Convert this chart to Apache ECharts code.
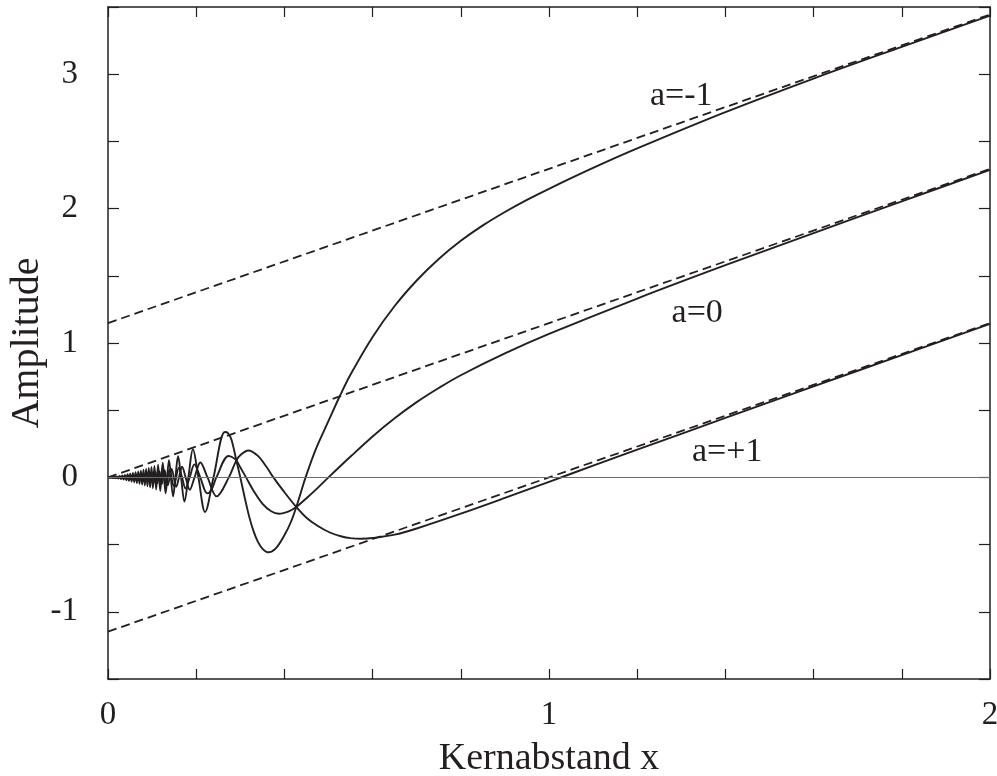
<!DOCTYPE html>
<html>
<head>
<meta charset="utf-8">
<script src="https://cdn.jsdelivr.net/npm/echarts@6/dist/echarts.min.js"></script>
<style>
html,body{margin:0;padding:0;background:#ffffff;}
#chart{width:997px;height:776px;}
</style>
</head>
<body>
<div id="chart"></div>
<script>
// ---- tick labels ----
const xLabelValues = [0, 1, 2];
const yLabelValues = [-1, 0, 1, 2, 3];
const curveNames = ['a=-1', 'a=0', 'a=+1'];

// ---- asymptotes (dashed) ----
const asymAm1 = [[0, 1.148], [2, 3.444]];
const asymA0  = [[0, 0], [2, 2.296]];
const asymAp1 = [[0, -1.148], [2, 1.148]];

// ---- solid curves, values ----
const curveAm1 = [
[0,0],[0.0025,0.0003],[0.0055,-0.0010],[0.0085,0.0020],[0.0115,-0.0031],[0.0145,0.0043],[0.0175,-0.0058],[0.0205,0.0073],[0.0235,-0.0090],[0.0265,0.0107],[0.0295,-0.0126],[0.0325,0.0146],[0.0355,-0.0167],[0.0385,0.0188],[0.0415,-0.0211],[0.0445,0.0234],[0.0475,-0.0258],[0.0505,0.0283],[0.0535,-0.0308],[0.0565,0.0334],[0.0595,-0.0361],[0.0625,0.0389],[0.0655,-0.0417],[0.0685,0.0446],[0.0715,-0.0476],[0.0745,0.0506],[0.0775,-0.0537],[0.0805,0.0569],[0.0835,-0.0601],[0.0865,0.0633],[0.0895,-0.0667],[0.0925,0.0700],[0.0955,-0.0735],
[0.0986,0.0771],[0.1018,-0.0809],[0.1053,0.0851],[0.1092,-0.0899],[0.1136,0.0953],[0.1185,-0.1016],[0.1241,0.109],[0.1307,-0.118],[0.1383,0.128],[0.1476,-0.141],[0.1529,0],[0.1589,0.158],[0.1657,0],[0.1733,-0.180],[0.1822,0],[0.1926,0.210],[0.2050,0],[0.2201,-0.257],[0.2392,0],
[0.265,0.338],[0.272,0.33],[0.28,0.28],[0.291,0.127],[0.300,0],[0.31,-0.15],[0.32,-0.29],[0.33,-0.40],[0.34,-0.48],[0.35,-0.53],[0.363,-0.557],[0.38,-0.53],[0.40,-0.43],[0.415,-0.33],[0.427,-0.22],[0.438,-0.105],[0.448,0],[0.47,0.20],[0.5,0.42],[0.525,0.60],[0.55,0.765],[0.6,1.045],[0.65,1.275],[0.7,1.465],[0.75,1.625],[0.8,1.76],[0.85,1.875],[0.9,1.975],[0.95,2.065],[1.0,2.1475],[1.1,2.3025],[1.2,2.4475],[1.4,2.7175],[1.6,2.9675],[1.8,3.2035],[2.0,3.4355]
];

const curveA0 = [
[0,0],[0.004,-0.0003],[0.007,0.0007],[0.010,-0.0011],[0.013,0.0017],[0.016,-0.0023],[0.019,0.0029],[0.022,-0.0037],[0.025,0.0044],[0.028,-0.0052],[0.031,0.0061],[0.034,-0.0070],[0.037,0.0080],[0.040,-0.0090],[0.043,0.0100],[0.046,-0.0110],[0.049,0.0121],[0.052,-0.0133],[0.055,0.0144],[0.058,-0.0156],[0.061,0.0169],[0.064,-0.0181],[0.067,0.0194],[0.070,-0.0207],[0.073,0.0221],[0.076,-0.0235],[0.079,0.0249],[0.082,-0.0263],[0.085,0.0278],[0.088,-0.0292],[0.091,0.0307],[0.094,-0.0323],[0.097,0.0338],
[0.1023,-0.0364],[0.1059,0.0384],[0.1098,-0.0405],[0.1143,0.0430],[0.1193,-0.0459],[0.1251,0.0493],[0.1317,-0.0533],[0.1396,0.0581],[0.1491,-0.0641],[0.1608,0.0718],[0.1678,0],[0.1758,-0.0821],[0.1851,0],[0.1960,0.0967],[0.2091,0],[0.2253,-0.119],[0.2349,-0.09],[0.2458,0],
[0.2733,0.159],[0.283,0.148],[0.291,0.127],[0.30,0.075],[0.313,0],[0.33,-0.10],[0.35,-0.195],[0.37,-0.252],[0.388,-0.27],[0.41,-0.252],[0.427,-0.22],[0.45,-0.155],[0.475,-0.08],[0.5,0],[0.55,0.155],[0.6,0.305],[0.65,0.44],[0.7,0.56],[0.75,0.665],[0.8,0.76],[0.9,0.922],[1.0,1.067],[1.2,1.331],[1.4,1.579],[1.6,1.818],[1.8,2.054],[2.0,2.288]
];

const curveAp1 = [
[0,0],[0.0035,0.0002],[0.0065,-0.0006],[0.0095,0.0011],[0.0125,-0.0016],[0.0155,0.0022],[0.0185,-0.0029],[0.0215,0.0036],[0.0245,-0.0044],[0.0275,0.0053],[0.0305,-0.0061],[0.0335,0.0071],[0.0365,-0.0080],[0.0395,0.0091],[0.0425,-0.0101],[0.0455,0.0112],[0.0485,-0.0123],[0.0515,0.0135],[0.0545,-0.0147],[0.0575,0.0159],[0.0605,-0.0172],[0.0635,0.0185],[0.0665,-0.0198],[0.0695,0.0211],[0.0725,-0.0225],[0.0755,0.0239],[0.0785,-0.0254],[0.0815,0.0268],[0.0845,-0.0283],[0.0875,0.0299],[0.0905,-0.0314],[0.0935,0.0330],[0.0965,-0.0346],
[0.1005,0.0368],[0.1041,-0.0387],[0.1078,0.0409],[0.1120,-0.0433],[0.1167,0.0460],[0.1221,-0.0493],[0.1283,0.0530],[0.1356,-0.0576],[0.1442,0.0632],[0.1547,-0.0702],[0.1610,0],[0.1680,0.0794],[0.1760,0],[0.1853,-0.0921],[0.1963,0],[0.2094,0.1106],[0.2256,0],[0.2463,-0.141],[0.2740,0],
[0.291,0.127],[0.30,0.165],[0.318,0.20],[0.34,0.16],[0.36,0.075],[0.375,0],[0.40,-0.11],[0.427,-0.22],[0.45,-0.30],[0.475,-0.36],[0.503,-0.41],[0.53,-0.44],[0.55,-0.452],[0.575,-0.456],[0.6,-0.451],[0.65,-0.426],[0.7,-0.380],[0.8,-0.270],[0.9,-0.153],[1.0,-0.033],[1.1,0.087],[1.2,0.206],[1.4,0.4425],[1.6,0.677],[1.8,0.910],[2.0,1.142]
];

// ---- styling / layout (not data) ----
const INK = '#231f20';
const SERIF = '"Liberation Serif","Times New Roman",serif';
const labelAnchors = [[1.30, 2.836], [1.336, 1.224], [1.404, 0.187]];

function onlyListed(list) {
  return function (v) {
    for (const t of list) { if (Math.abs(v - t) < 1e-6) return String(t); }
    return '';
  };
}

const chart = echarts.init(document.getElementById('chart'), null, {renderer: 'canvas'});

function baseAxis(extra) {
  return Object.assign({
    type: 'value',
    axisLine: {show: true, onZero: false, lineStyle: {color: INK, width: 1.5}},
    axisTick: {show: true, inside: true, lineStyle: {color: INK, width: 1.2}},
    splitLine: {show: false},
  }, extra);
}

const dashStyle = {color: INK, width: 1.8, type: [9, 5]};
const solidStyle = {color: INK, width: 1.9};

function curveSeries(data, idx) {
  return {
    type: 'line', data: data, smooth: 0.35, showSymbol: false, symbol: 'none',
    lineStyle: solidStyle, silent: true, animation: false, z: 3,
    markPoint: {
      silent: true, symbol: 'circle', symbolSize: 0,
      itemStyle: {color: 'transparent'},
      label: {show: true, position: 'inside', formatter: curveNames[idx], color: INK, fontSize: 34, fontFamily: SERIF},
      data: [{coord: labelAnchors[idx]}]
    }
  };
}

function dashSeries(data) {
  return {type: 'line', data: data, showSymbol: false, symbol: 'none', lineStyle: dashStyle, silent: true, animation: false, z: 2};
}

const option = {
  backgroundColor: '#ffffff',
  animation: false,
  grid: {left: 108, right: 7, top: 7, bottom: 97, containLabel: false, outerBoundsMode: 'none'},
  xAxis: [
    baseAxis({
      min: 0, max: 2, interval: 0.2, position: 'bottom',
      axisTick: {show: true, inside: true, length: 10, lineStyle: {color: INK, width: 1.2}},
      axisLabel: {formatter: onlyListed(xLabelValues), fontSize: 33, fontFamily: SERIF, color: INK, margin: 20, showMinLabel: true, showMaxLabel: true},
      name: 'Kernabstand x', nameLocation: 'middle', nameGap: 61, nameMoveOverlap: false,
      nameTextStyle: {fontSize: 38, fontFamily: SERIF, color: INK}
    }),
    baseAxis({
      min: 0, max: 2, interval: 0.2, position: 'top',
      axisTick: {show: true, inside: true, length: 10, lineStyle: {color: INK, width: 1.2}},
      axisLabel: {show: false}
    })
  ],
  yAxis: [
    baseAxis({
      min: -1.5, max: 3.5, interval: 0.5, position: 'left',
      axisTick: {show: true, inside: true, length: 11, lineStyle: {color: INK, width: 1.2}},
      axisLabel: {formatter: onlyListed(yLabelValues), fontSize: 33, fontFamily: SERIF, color: INK, margin: 30, showMinLabel: true, showMaxLabel: true},
      name: 'Amplitude', nameLocation: 'middle', nameGap: 61, nameRotate: 90, nameMoveOverlap: false,
      nameTextStyle: {fontSize: 40, fontFamily: SERIF, color: INK}
    }),
    baseAxis({
      min: -1.5, max: 3.5, interval: 0.5, position: 'right',
      axisTick: {show: true, inside: true, length: 11, lineStyle: {color: INK, width: 1.2}},
      axisLabel: {show: false}
    })
  ],
  series: [
    Object.assign(dashSeries(asymAm1), {
      markLine: {
        silent: true, symbol: ['none', 'none'], label: {show: false},
        lineStyle: {color: '#6d6e71', width: 1, type: 'solid'},
        data: [{yAxis: 0}]
      }
    }),
    dashSeries(asymA0),
    dashSeries(asymAp1),
    curveSeries(curveAm1, 0),
    curveSeries(curveA0, 1),
    curveSeries(curveAp1, 2)
  ]
};

chart.setOption(option);
</script>
</body>
</html>
